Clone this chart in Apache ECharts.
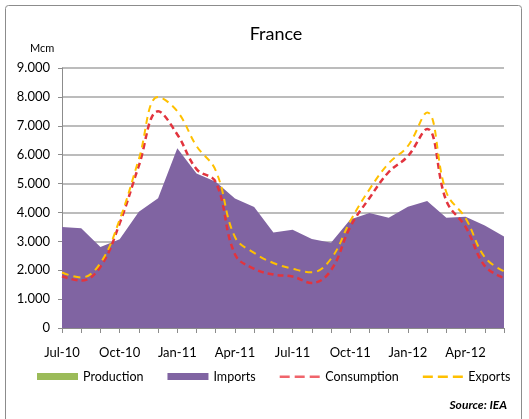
<!DOCTYPE html>
<html>
<head>
<meta charset="utf-8">
<title>France</title>
<script src="https://cdn.jsdelivr.net/npm/echarts@6/dist/echarts.min.js"></script>
<style>
  html, body { margin: 0; padding: 0; background: #fff; }
  #chart { width: 529px; height: 419px; }
</style>
</head>
<body>
<div id="chart"></div>
<script>
// monthly data, Jul-10 .. Jun-12 (Mcm)
var months = ['Jul-10', 'Aug-10', 'Sep-10', 'Oct-10', 'Nov-10', 'Dec-10',
              'Jan-11', 'Feb-11', 'Mar-11', 'Apr-11', 'May-11', 'Jun-11',
              'Jul-11', 'Aug-11', 'Sep-11', 'Oct-11', 'Nov-11', 'Dec-11',
              'Jan-12', 'Feb-12', 'Mar-12', 'Apr-12', 'May-12', 'Jun-12'];
var production = [0, 0, 0, 0, 0, 0, 0, 0, 0, 0, 0, 0,
                  0, 0, 0, 0, 0, 0, 0, 0, 0, 0, 0, 0];
var imports = [3500, 3450, 2800, 3070, 4020, 4490, 6220, 5350, 5060, 4480, 4190, 3310,
               3400, 3080, 2950, 3760, 3980, 3820, 4200, 4400, 3820, 3850, 3550, 3170];
var consumption = [1790, 1640, 2120, 3620, 5620, 7500, 6700, 5500, 5050, 2550, 2050, 1850,
                   1780, 1560, 2000, 3500, 4500, 5400, 5950, 6890, 4400, 3500, 2150, 1730];
var exports = [1920, 1750, 2250, 3750, 5850, 8000, 7500, 6300, 5450, 3150, 2600, 2250,
               2050, 1930, 2400, 3700, 4800, 5700, 6300, 7460, 4700, 3800, 2450, 1960];

var yMax = 9000, yStep = 1000;
var font = 'Lato, "Open Sans", sans-serif';
// dashed legend icon (three short bars), drawn as a filled path
var dashIcon = 'path://M0,0L0,0Z M0,2.4h10v2.6h-10z M15,2.4h10v2.6h-10z M30,2.4h10v2.6h-10z M40,7L40,7Z';

function fmt(v) {
    // European thousands separator: 1000 -> 1.000
    return String(v).replace(/\B(?=(\d{3})+(?!\d))/g, '.');
}

var chart = echarts.init(document.getElementById('chart'));
var option = {
    animation: false,
    textStyle: { fontFamily: font },
    title: {
        text: 'France',
        left: 271, top: 20, textAlign: 'center',
        textStyle: { fontFamily: font, fontSize: 18, fontWeight: 'normal', color: '#000' }
    },
    graphic: [
        {
            type: 'rect', silent: true, z: -1,
            shape: { x: 5.5, y: 5.5, width: 516, height: 430, r: 3 },
            style: { fill: 'none', stroke: '#8c8c8c', lineWidth: 1 }
        },
        {
            type: 'text', left: 30, top: 43,
            style: { text: 'Mcm', font: '11px ' + font, fill: '#000' }
        },
        {
            type: 'text', right: 22, top: 399,
            style: { text: 'Source: IEA', font: 'italic bold 12px ' + font, fill: '#000' }
        }
    ],
    legend: {
        left: 32, top: 365,
        itemWidth: 41, itemHeight: 7, itemGap: 24,
        textStyle: { fontFamily: font, fontSize: 12.5, color: '#000' },
        data: [
            { name: 'Production', icon: 'rect', itemStyle: { color: '#9BBB59' } },
            { name: 'Imports', icon: 'rect', itemStyle: { color: '#8064A2' } },
            { name: 'Consumption', icon: dashIcon, itemStyle: { color: '#F0646B', borderWidth: 0 } },
            { name: 'Exports', icon: dashIcon, itemStyle: { color: '#FFC000', borderWidth: 0 } }
        ]
    },
    grid: { left: 62, right: 25, top: 68, bottom: 91 },
    xAxis: {
        type: 'category',
        data: months,
        boundaryGap: false,
        axisLine: { lineStyle: { color: '#8c8c8c', width: 1 } },
        axisTick: { show: true, interval: 0, length: 5, lineStyle: { color: '#8c8c8c' } },
        axisLabel: { interval: 2, margin: 18, fontSize: 13, color: '#000', fontFamily: font },
        splitLine: { show: false }
    },
    yAxis: {
        type: 'value',
        min: 0, max: yMax, interval: yStep,
        axisLine: { show: true, lineStyle: { color: '#8c8c8c', width: 1 } },
        axisTick: { show: true, length: 4, lineStyle: { color: '#8c8c8c' } },
        axisLabel: { fontSize: 13, color: '#000', margin: 12, fontFamily: font, formatter: fmt },
        splitLine: { lineStyle: { color: '#a6a6a6', width: 1.5 } }
    },
    series: [
        {
            name: 'Production', type: 'line', data: production,
            symbol: 'none', lineStyle: { width: 0 },
            itemStyle: { color: '#9BBB59' },
            areaStyle: { color: '#9BBB59', opacity: 1 }, z: 2
        },
        {
            name: 'Imports', type: 'line', data: imports,
            symbol: 'none', lineStyle: { width: 0 },
            itemStyle: { color: '#8064A2' },
            areaStyle: { color: '#8064A2', opacity: 1 }, z: 1
        },
        {
            name: 'Consumption', type: 'line', data: consumption,
            symbol: 'none', smooth: 0.4,
            itemStyle: { color: '#E2343E' },
            lineStyle: { color: '#E2343E', width: 2.5, type: [6, 4] }, z: 3
        },
        {
            name: 'Exports', type: 'line', data: exports,
            symbol: 'none', smooth: 0.4,
            itemStyle: { color: '#FFC000' },
            lineStyle: { color: '#FFC000', width: 2, type: [7, 5] }, z: 4
        }
    ]
};
chart.setOption(option);
</script>
</body>
</html>
